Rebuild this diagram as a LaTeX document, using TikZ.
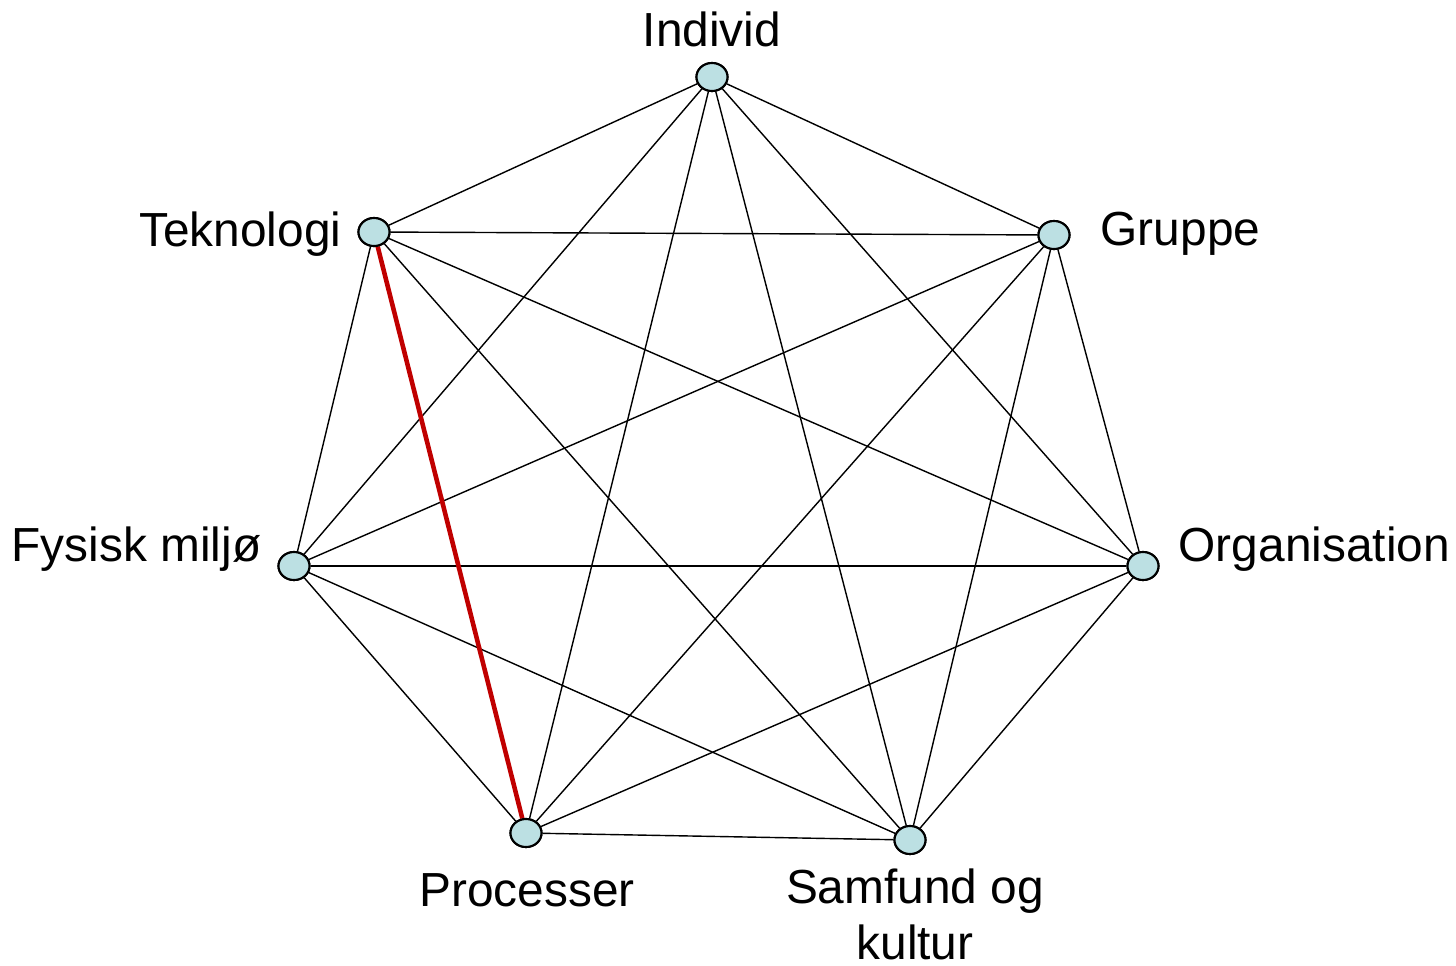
\documentclass[tikz,border=0pt]{standalone}
\usepackage{fontspec}
\setmainfont{Liberation Sans}
\usetikzlibrary{shapes.geometric}
\definecolor{nodefill}{HTML}{BCE0E3}
\definecolor{redline}{HTML}{C00000}
\begin{document}
\begin{tikzpicture}[x=0.01cm,y=-0.01cm,
  vtx/.style={ellipse,draw=black,line width=0.6pt,fill=nodefill,inner sep=0pt,minimum width=0.31cm,minimum height=0.28cm},
  lbl/.style={font=\fontsize{13.6}{15.9}\selectfont,inner sep=0pt,align=center},
  edge/.style={line width=0.4pt,black},
  redge/.style={line width=1.3pt,redline}]
\useasboundingbox (0,0) rectangle (1456,966);
\node[vtx] (ind) at (712,77) {};
\node[vtx] (tek) at (374,232) {};
\node[vtx] (gru) at (1054,235) {};
\node[vtx] (fys) at (294,566) {};
\node[vtx] (org) at (1143,566) {};
\node[vtx] (pro) at (526,833) {};
\node[vtx] (sam) at (910,840) {};
\foreach \a/\b in {ind/tek,ind/gru,ind/fys,ind/org,ind/pro,ind/sam,
  tek/gru,tek/fys,tek/org,tek/sam,
  gru/fys,gru/org,gru/pro,gru/sam,
  fys/org,fys/pro,fys/sam,
  org/pro,org/sam,
  pro/sam}
  \draw[edge] (\a) -- (\b);
\draw[redge] (tek) -- (pro);
\foreach \n in {ind,tek,gru,fys,org,pro,sam}
  \node[vtx] at (\n) {};
\node[lbl,anchor=center] (lind) at (712,29) {Individ};
\node[lbl,anchor=east] (ltek) at (342,234) {Teknologi};
\node[lbl,anchor=west] (lgru) at (1100,234) {Gruppe};
\node[lbl,anchor=east] (lfys) at (262,549) {Fysisk miljø};
\node[lbl,anchor=west] (lorg) at (1178,549) {Organisation};
\node[lbl,anchor=center] (lpro) at (527,890) {Processer};
\node[lbl,anchor=center] (lsam) at (915,914) {Samfund og\\kultur};
\end{tikzpicture}
\end{document}
